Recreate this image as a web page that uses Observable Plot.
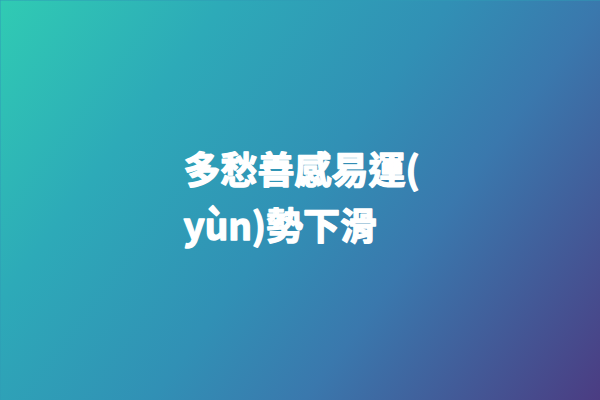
<!DOCTYPE html>
<html>
<head>
<meta charset="utf-8">
<script src="https://cdn.jsdelivr.net/npm/d3@7"></script>
<script src="https://cdn.jsdelivr.net/npm/@observablehq/plot@0.6"></script>
<style>
  html, body { margin: 0; padding: 0; background: #2f9bb5; }
  #chart svg { display: block; }
</style>
</head>
<body>
<div id="chart"></div>
<script>
// Content
const lines = ["多愁善感易運(", "yùn)勢下滑"];
const lineIndex = [0, 1];
// Background gradient stops (offset, colour)
const gradOffsets = [0, 0.25, 0.5, 0.67, 1];
const gradColors = ["#30cbb3", "#2daab8", "#3190b5", "#3a78ad", "#4b3c82"];

const defsMark = () => {
  const defs = d3.create("svg:defs");
  const g = defs.append("linearGradient")
    .attr("id", "bg-grad")
    .attr("gradientUnits", "userSpaceOnUse")
    .attr("x1", 0).attr("y1", 0).attr("x2", 576).attr("y2", 432);
  gradOffsets.forEach((o, i) => {
    g.append("stop").attr("offset", o).attr("stop-color", gradColors[i]);
  });
  return defs.node();
};

const chart = Plot.plot({
  width: 600,
  height: 400,
  margin: 0,
  x: { type: "linear", domain: [0, 1], range: [183, 600], axis: null },
  y: { type: "point", domain: lineIndex, range: [172, 228], padding: 0, axis: null },
  style: { fontFamily: "'Noto Sans CJK TC', 'Noto Sans', sans-serif", overflow: "visible" },
  marks: [
    defsMark,
    Plot.frame({ fill: "url(#bg-grad)", stroke: "none" }),
    Plot.text(lines, {
      x: () => 0,
      y: (d, i) => lineIndex[i],
      text: d => d,
      textAnchor: "start",
      fill: "white",
      stroke: "white",
      strokeWidth: 1.4,
      fontSize: 37,
      fontWeight: "bold",
      lineAnchor: "middle"
    })
  ]
});
document.getElementById("chart").append(chart);
</script>
</body>
</html>
